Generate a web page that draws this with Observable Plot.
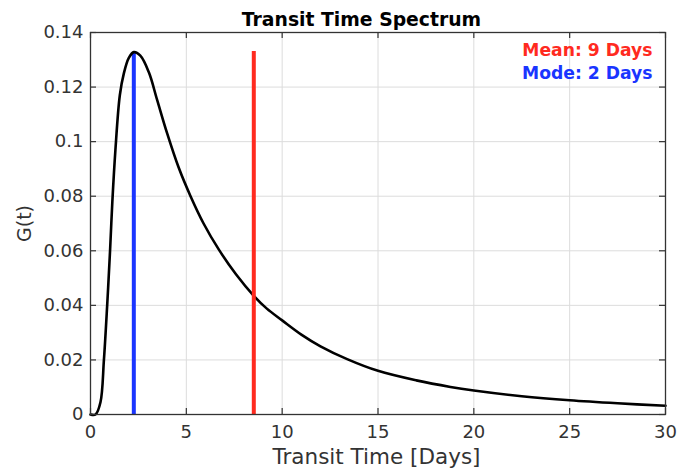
<!DOCTYPE html>
<html>
<head>
<meta charset="utf-8">
<script src="https://cdn.jsdelivr.net/npm/d3@7"></script>
<script src="https://cdn.jsdelivr.net/npm/@observablehq/plot@0.6"></script>
<style>
  html, body { margin: 0; padding: 0; background: #fff; }
</style>
</head>
<body>
<div id="chart"></div>
<script>
// Transit time (days) and spectrum values G(t)
const transitTime = [0, 0.26, 0.52, 0.70, 0.87, 1.02, 1.14, 1.30, 1.53, 1.74, 2.0, 2.26, 2.6, 3.04, 3.48, 4.0, 4.6, 5.22, 5.9, 6.69, 7.6, 8.52, 9.2, 10, 11, 12, 13.39, 15, 17, 18.78, 20, 22.5, 25, 27.5, 30];
const spectrum    = [0, 0, 0.0045, 0.02, 0.04, 0.06, 0.078, 0.097, 0.117, 0.125, 0.1307, 0.1328, 0.1315, 0.1255, 0.1152, 0.103, 0.0905, 0.080, 0.070, 0.0605, 0.0513, 0.0435, 0.0388, 0.0345, 0.0293, 0.0250, 0.0203, 0.0160, 0.0125, 0.0101, 0.0088, 0.0067, 0.0052, 0.0041, 0.0032];

// Markers
const meanLineX = 8.52;
const meanLineTop = 0.133;
const modeLineX = 2.26;
const modeLineTop = 0.1326;
const legendLabels = ["Mean: 9 Days", "Mode: 2 Days"];

// Axes
const xTicks = [0, 5, 10, 15, 20, 25, 30];
const yTicks = [0, 0.02, 0.04, 0.06, 0.08, 0.1, 0.12, 0.14];
const yTickLabels = ["0", "0.02", "0.04", "0.06", "0.08", "0.1", "0.12", "0.14"];
const titleText = "Transit Time Spectrum";
const xLabel = "Transit Time [Days]";
const yLabel = "G(t)";

const data = transitTime.map((t, i) => ({t, g: spectrum[i]}));

const W = 679, H = 469;
const mL = 90, mR = 14, mT = 32, mB = 55;
const innerW = W - mL - mR, innerH = H - mT - mB;
const font = "'DejaVu Sans', sans-serif";

const chart = Plot.plot({
  width: W,
  height: H,
  marginLeft: mL,
  marginRight: mR,
  marginTop: mT,
  marginBottom: mB,
  style: {fontFamily: font, fontSize: "18px", background: "#fff", color: "#333"},
  x: {domain: [0, 30], label: null},
  y: {domain: [0, 0.14], label: null},
  marks: [
    Plot.gridX(xTicks, {stroke: "#dcdcdc", strokeOpacity: 1, strokeWidth: 1}),
    Plot.gridY(yTicks, {stroke: "#dcdcdc", strokeOpacity: 1, strokeWidth: 1}),
    Plot.axisX(xTicks, {tickSize: 0, tickPadding: 11, fill: "#333", fontSize: 18}),
    Plot.axisY(yTicks, {tickSize: 0, tickPadding: 7, fill: "#333", fontSize: 18,
      tickFormat: (d) => yTickLabels[yTicks.indexOf(d)]}),
    // inward ticks, MATLAB box style
    Plot.tickX(xTicks, {x: d => d, insetTop: innerH - 6, stroke: "#333", strokeWidth: 1.2}),
    Plot.tickX(xTicks, {x: d => d, insetBottom: innerH - 6, stroke: "#333", strokeWidth: 1.2}),
    Plot.tickY(yTicks, {y: d => d, insetRight: innerW - 6, stroke: "#333", strokeWidth: 1.2}),
    Plot.tickY(yTicks, {y: d => d, insetLeft: innerW - 6, stroke: "#333", strokeWidth: 1.2}),
    Plot.ruleX([modeLineX], {y1: 0, y2: modeLineTop, stroke: "#1a35ff", strokeWidth: 4}),
    Plot.line(data, {x: "t", y: "g", stroke: "#000", strokeWidth: 2.6, curve: "catmull-rom"}),
    Plot.ruleX([meanLineX], {y1: 0, y2: meanLineTop, stroke: "#ff2a1f", strokeWidth: 4}),
    Plot.frame({stroke: "#333", strokeWidth: 1.3}),
    // title
    Plot.text([titleText], {frameAnchor: "top-left", dx: 361 - mL, dy: -7, textAnchor: "middle",
      lineAnchor: "bottom", fontWeight: "bold", fontSize: 18.8, fill: "#000"}),
    // x label
    Plot.text([xLabel], {frameAnchor: "bottom-left", dx: 376 - mL, dy: 49, textAnchor: "middle",
      lineAnchor: "bottom", fontSize: 21.5, fill: "#333"}),
    // y label
    Plot.text([yLabel], {frameAnchor: "left", dx: -60, rotate: -90, textAnchor: "middle",
      lineAnchor: "bottom", fontSize: 19, fill: "#333"}),
    // legend
    Plot.text([legendLabels[0]], {frameAnchor: "top-right", dx: -13, dy: 23.7, textAnchor: "end",
      lineAnchor: "bottom", fontWeight: "bold", fontSize: 17.2, fill: "#ff2a1f"}),
    Plot.text([legendLabels[1]], {frameAnchor: "top-right", dx: -13, dy: 46.3, textAnchor: "end",
      lineAnchor: "bottom", fontWeight: "bold", fontSize: 17.2, fill: "#1a35ff"})
  ]
});

document.getElementById("chart").appendChild(chart);
</script>
</body>
</html>
